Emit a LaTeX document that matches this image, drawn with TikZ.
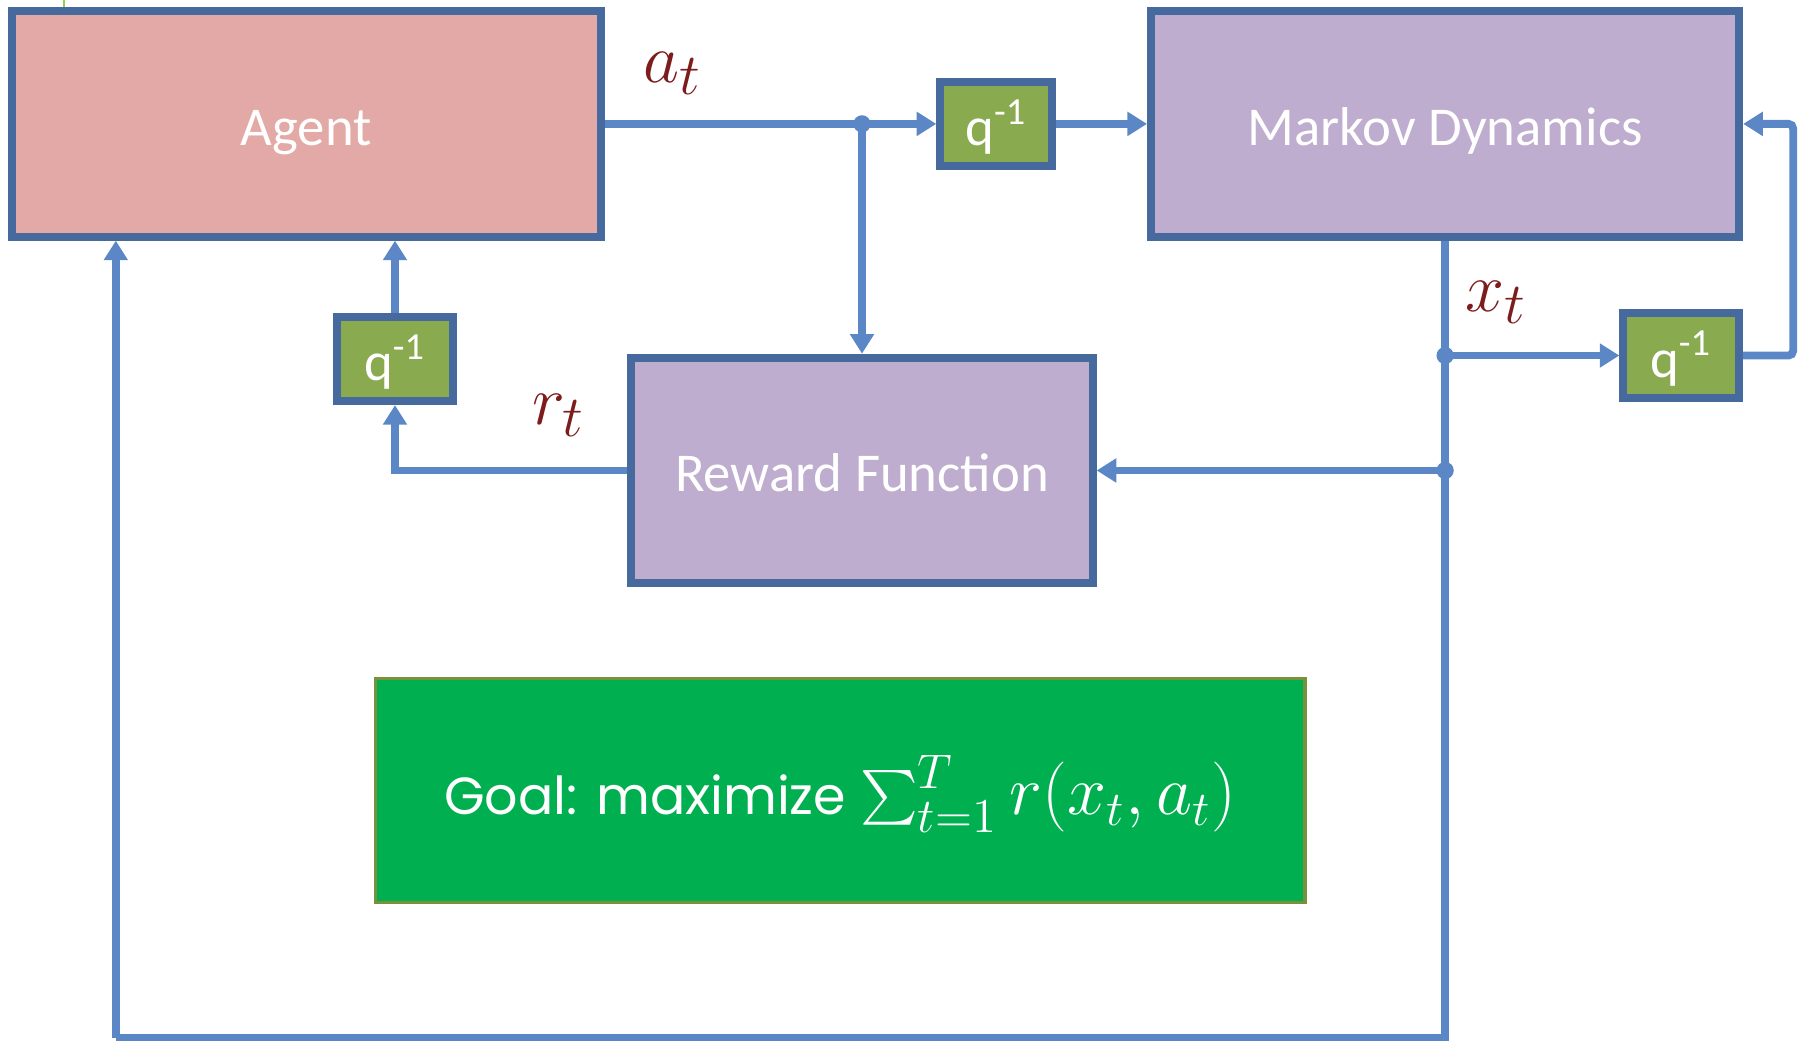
\documentclass[tikz,border=0pt]{standalone}
\usepackage{fontspec}
\usepackage{graphicx}
\newfontfamily\boxfont{Carlito}
\newfontfamily\goalfont{Poppins}
\usetikzlibrary{arrows.meta}

\definecolor{agentfill}{RGB}{227,169,166}
\definecolor{procfill}{RGB}{191,173,208}
\definecolor{delayfill}{RGB}{138,170,80}
\definecolor{boxline}{RGB}{70,105,158}
\definecolor{wire}{RGB}{91,135,198}
\definecolor{goalfill}{RGB}{0,176,80}
\definecolor{goalline}{RGB}{118,146,60}
\definecolor{sigred}{RGB}{125,28,28}
\definecolor{tickgreen}{RGB}{146,208,80}

% a summation sign a little larger than the inline one, limits at its side
\newcommand{\bigsumop}{\mathop{\vcenter{\hbox{\scalebox{1.35}{$\sum$}}}}\nolimits}

\begin{document}
\begin{tikzpicture}[x=0.01cm,y=-0.01cm,
  block/.style={draw=boxline, line width=0.07cm, rectangle, inner sep=0pt,
    text=white, font=\boxfont\fontsize{13.5}{16}\selectfont,
    text height=12pt, text depth=1.4pt},
  bigblock/.style={block, minimum height=1.955cm},
  delay/.style={block, fill=delayfill, minimum width=1.0cm, minimum height=0.73cm},
  wireline/.style={draw=wire, line width=0.068cm},
  conn/.style={wireline, -{Triangle[length=0.17cm,width=0.2cm]}},
  junction/.style={fill=wire, circle, inner sep=0pt, minimum size=0.15cm},
  signal/.style={text=sigred, font=\fontsize{19}{21}\selectfont, inner sep=0pt, anchor=base west}
]
\useasboundingbox (0,0) rectangle (1568,903);

% small tick at the top edge
\draw[tickgreen, line width=0.025cm] (55.5,0) -- (55.5,6);

% main blocks
\node[bigblock, fill=agentfill, minimum width=5.105cm] (agent) at (265.75,107.5) {Agent};
\node[bigblock, fill=procfill, minimum width=5.10cm] (markov) at (1254,107.5) {Markov Dynamics};
\node[bigblock, fill=procfill, minimum width=4.0cm] (reward) at (748,408.25) {Reward Function};

% unit delays
\node[delay, minimum width=0.97cm] (qa) at (864.5,107.5) {q\textsuperscript{-1}};
\node[delay] (qr) at (342.75,311.5) {q\textsuperscript{-1}};
\node[delay] (qx) at (1458.75,308.5) {q\textsuperscript{-1}};

% objective
\node[draw=goalline, line width=0.03cm, fill=goalfill, minimum width=8.06cm,
      minimum height=1.94cm, inner sep=0pt, text=white,
      text height=16pt, text depth=4pt] (goal) at (729,686)
  {\goalfont\fontsize{12.9}{16}\selectfont Goal: maximize \fontsize{17}{20}\selectfont$\bigsumop_{t=1}^{T} r(x_t,a_t)$};

% branch points and corners
\coordinate (ja) at (reward.north |- agent.east);
\coordinate (jx1) at (markov.south |- qx.west);
\coordinate (jx2) at (markov.south |- reward.east);
\coordinate (cbr) at (1254,900.5);
\coordinate (cbl) at (100.5,900.5);
\coordinate (loopc) at (1556,107.5);

% action path
\draw[conn] (agent.east) -- (qa.west);
\draw[conn] (ja) -- (reward.north);
\draw[conn] (qa.east) -- (markov.west);

% state path
\draw[wireline] (markov.south) -- (cbr) -- (cbl);
\draw[conn] (cbl) -- (cbl |- agent.south);
\draw[conn] (jx1) -- (qx.west);
\draw[conn] (jx2) -- (reward.east);
\draw[conn, rounded corners=0.04cm] (qx.east) -| (loopc) -- (markov.east);

% reward path
\draw[conn] (reward.west) -| (qr.south);
\draw[conn] (qr.north) -- (qr.north |- agent.south);

\node[junction] (dja) at (ja) {};
\node[junction] (djx1) at (jx1) {};
\node[junction] (djx2) at (jx2) {};

% signal labels
\node[signal] (lat) at (558,71.4) {$a_t$};
\node[signal] (lrt) at (461,368.6) {$r_t$};
\node[signal] (lxt) at (1271,270.6) {$x_t$};
\end{tikzpicture}
\end{document}
